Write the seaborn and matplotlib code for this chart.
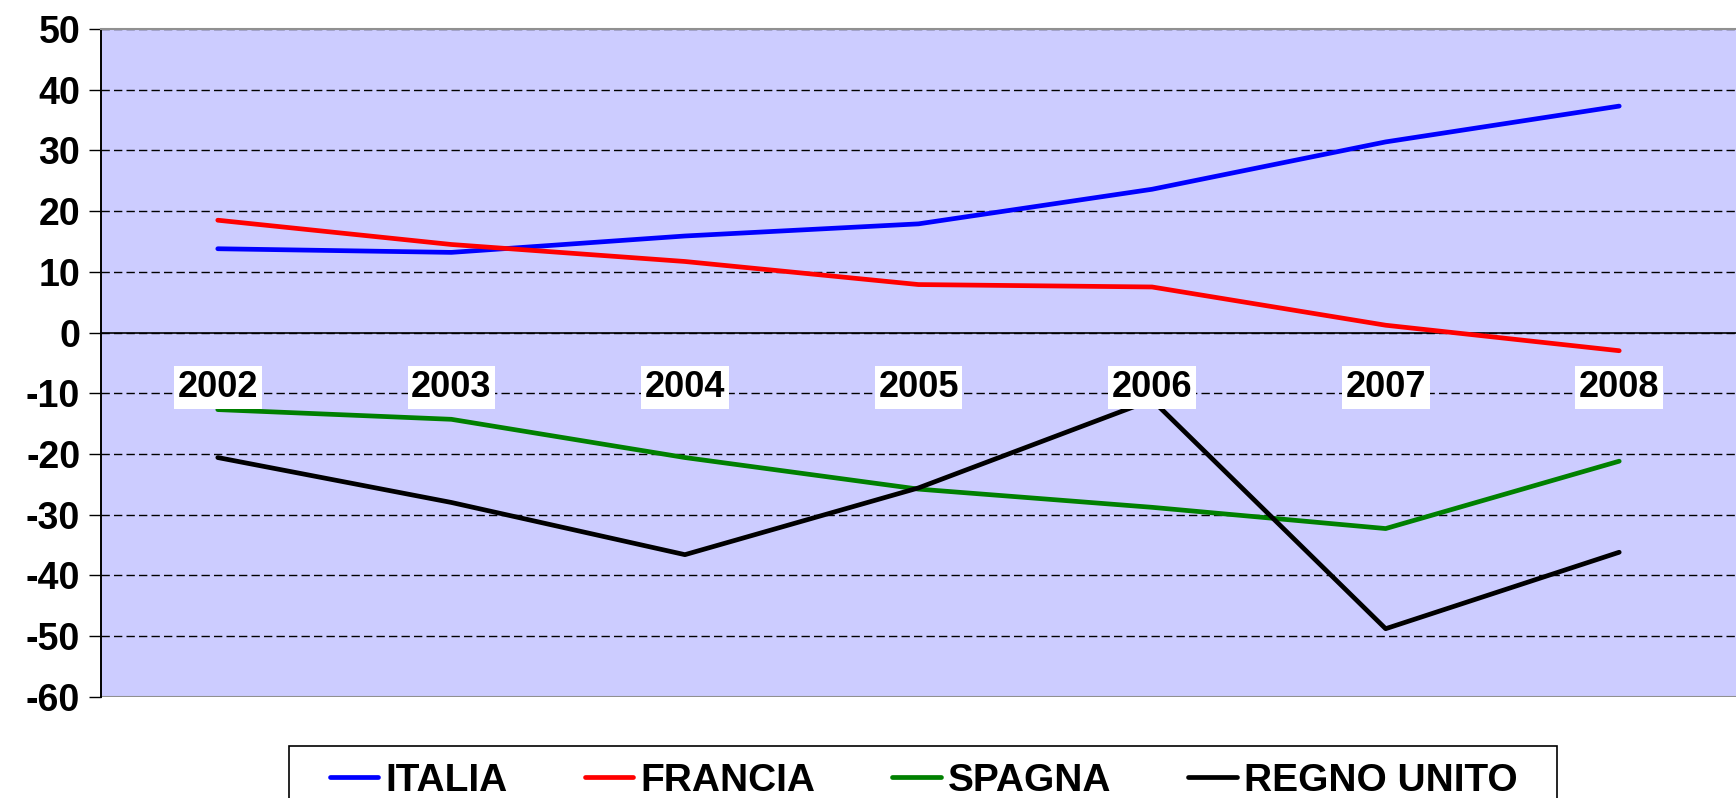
import matplotlib
matplotlib.use("Agg")
import matplotlib.pyplot as plt
from matplotlib.patches import Rectangle
import seaborn as sns
import pandas as pd

years = ["2002", "2003", "2004", "2005", "2006", "2007", "2008"]
italia = [13.8, 13.2, 15.9, 17.9, 23.6, 31.4, 37.3]
francia = [18.5, 14.5, 11.7, 7.9, 7.5, 1.2, -3.0]
spagna = [-12.7, -14.3, -20.6, -25.8, -28.8, -32.3, -21.2]
regno_unito = [-20.6, -28.0, -36.6, -25.6, -11.1, -48.8, -36.2]

series = {"ITALIA": italia, "FRANCIA": francia, "SPAGNA": spagna, "REGNO UNITO": regno_unito}
colors = {"ITALIA": "#0000FF", "FRANCIA": "#FF0000", "SPAGNA": "#008000", "REGNO UNITO": "#000000"}

rows = []
for name, vals in series.items():
    for i, v in enumerate(vals):
        rows.append({"pos": i, "year": years[i], "value": v, "paese": name})
df = pd.DataFrame(rows)

sns.set_style("white")
plt.rcParams['font.family'] = ['Liberation Sans', 'DejaVu Sans']
plt.rcParams['font.weight'] = 'bold'
plt.rcParams['text.color'] = 'black'
plt.rcParams['xtick.color'] = 'black'
plt.rcParams['ytick.color'] = 'black'
plt.rcParams['axes.labelcolor'] = 'black'

W, H = 1736, 798
fig = plt.figure(figsize=(W / 100, H / 100), dpi=100)
ax = fig.add_axes([101 / W, 101.3 / H, 1 - 101 / W, 0.8367])
ax.set_facecolor("#CCCCFF")

sns.lineplot(data=df, x="pos", y="value", hue="paese", palette=colors,
             linewidth=3.4, solid_capstyle="round", zorder=3, ax=ax)
handles, labels = ax.get_legend_handles_labels()
if ax.get_legend() is not None:
    ax.get_legend().remove()

ax.set_xlim(-0.5, 6.418)
ax.set_ylim(-60, 50)
ax.set_yticks(range(-60, 51, 10))
ax.set_yticklabels([str(v) for v in range(-60, 51, 10)])
ax.set_xticks(range(len(years)))
ax.set_xticklabels(years)
ax.set_xticks([i + 0.5 for i in range(len(years))], minor=True)
ax.set_xlabel("")
ax.set_ylabel("")

ax.tick_params(axis="x", which="major", length=0, pad=27, labelsize=26)
ax.tick_params(axis="x", which="minor", length=9, width=1, direction="out", color="black")
ax.tick_params(axis="y", length=9, width=1, direction="out", color="black", pad=6,
               left=True, labelsize=27)
ax.xaxis.set_zorder(4)

ax.yaxis.grid(True, color="black", linestyle=(0, (6, 3)), linewidth=1)
ax.xaxis.grid(False)

ax.spines["bottom"].set_position(("data", 0))
ax.spines["bottom"].set_color("black")
ax.spines["bottom"].set_linewidth(1.2)
ax.spines["left"].set_color("black")
ax.spines["left"].set_linewidth(1.4)
ax.spines["top"].set_color("#909090")
ax.spines["top"].set_linewidth(1.5)
ax.spines["right"].set_visible(False)
ax.axhline(-60, color="#909090", linewidth=1.5, zorder=2.5)

# legend box (frame drawn separately, it runs off the bottom of the image)
fig.patches.append(Rectangle((289 / W, -0.05), (1557 - 289) / W, 0.05 + 1 - 746 / H,
                             transform=fig.transFigure, facecolor="white",
                             edgecolor="black", linewidth=1.2, zorder=0))
leg = fig.legend(handles, labels, loc="upper left", bbox_to_anchor=(318 / W, 1 - 751 / H),
                 ncol=4, fontsize=28, frameon=False,
                 handlelength=1.25, handletextpad=0.18, columnspacing=1.98, borderpad=0.3,
                 borderaxespad=0)
for t in leg.get_texts():
    t.set_fontweight("bold")
for h in leg.get_lines():
    h.set_linewidth(3.4)
    h.set_solid_capstyle("round")

fig.canvas.draw()
for lab in ax.get_xticklabels():
    lab.set_fontweight("bold")
    lab.set_bbox(dict(facecolor="white", edgecolor="none", boxstyle="square,pad=0.1"))
for lab in ax.get_yticklabels():
    lab.set_fontweight("bold")

fig.savefig("out.png", dpi=100, facecolor="white")
